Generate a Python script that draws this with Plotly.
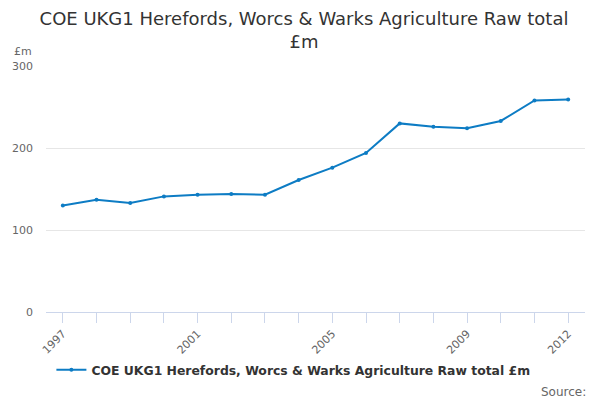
import plotly.graph_objects as go

# data
years = list(range(1997, 2013))
values = [130, 137, 133, 141, 143, 144, 143, 161, 176, 194, 230, 226, 224, 233, 258, 259]
label_years = [1997, 2001, 2005, 2009, 2012]
y_ticks = [0, 100, 200, 300]

series_name = "COE UKG1 Herefords, Worcs & Warks Agriculture Raw total £m"
LINE_BLUE = "#0d7cc4"
FONT = "DejaVu Sans"

fig = go.Figure()
fig.add_trace(go.Scatter(
    x=years,
    y=values,
    mode="lines+markers",
    name="<b>" + series_name + "</b>",
    line=dict(color=LINE_BLUE, width=2),
    marker=dict(color=LINE_BLUE, size=4),
))

# page body has an 8px margin, so the figure is made 8px smaller each way
fig.update_layout(
    width=592,
    height=392,
    plot_bgcolor="white",
    paper_bgcolor="white",
    font=dict(family=FONT, color="#666666"),
    margin=dict(l=38, r=15, t=58, b=88, autoexpand=False),
    title=dict(
        text="COE UKG1 Herefords, Worcs & Warks Agriculture Raw total<br>£m",
        x=0.5,
        xanchor="center",
        y=0.957,
        yanchor="top",
        font=dict(size=18, color="#333333", family=FONT),
    ),
    showlegend=True,
    legend=dict(
        orientation="h",
        x=0.459,
        xanchor="center",
        y=-0.237,
        yanchor="middle",
        font=dict(size=12.4, color="#333333", family=FONT),
    ),
    xaxis=dict(
        range=[1996.5, 2012.5],
        tickvals=years,
        ticktext=[str(y) if y in label_years else "" for y in years],
        tickangle=-45,
        ticks="outside",
        ticklen=10,
        tickcolor="#ccd6eb",
        showline=True,
        linecolor="#ccd6eb",
        showgrid=False,
        zeroline=False,
        tickfont=dict(size=11, color="#666666"),
    ),
    yaxis=dict(
        range=[0, 300],
        tickvals=y_ticks,
        gridcolor="#e6e6e6",
        zeroline=False,
        showline=False,
        ticks="",
        ticklabelstandoff=12,
        tickfont=dict(size=11, color="#666666"),
    ),
)

fig.add_annotation(
    text="£m", xref="paper", yref="paper", x=-0.063, y=1.057,
    xanchor="left", yanchor="middle", showarrow=False,
    font=dict(size=11, color="#666666"),
)
fig.add_annotation(
    text="Source:", xref="paper", yref="paper", x=1.005, y=-0.325,
    xanchor="right", yanchor="middle", showarrow=False,
    font=dict(size=12, color="#666666"),
)

fig.write_html("out.html")
